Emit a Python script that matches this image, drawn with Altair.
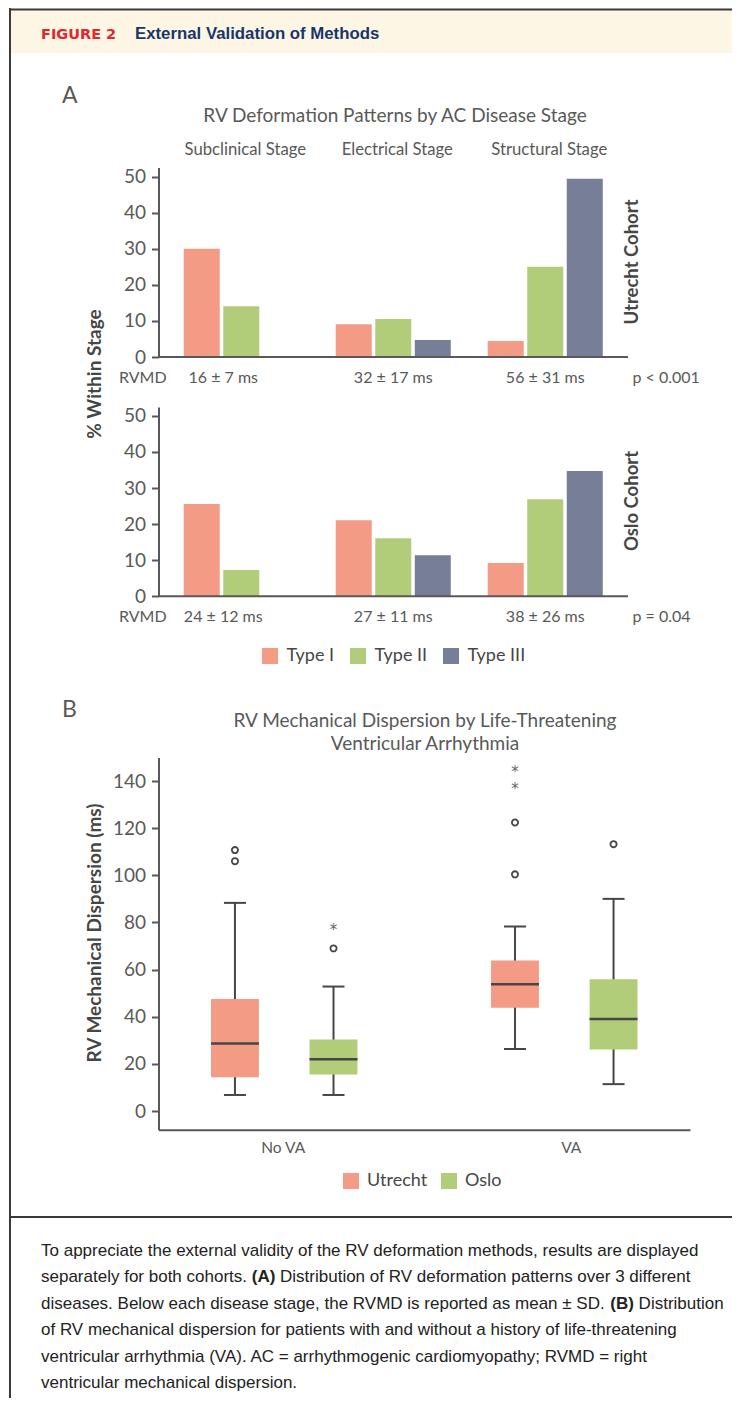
import altair as alt
import pandas as pd

# ---------------- values ----------------
STAGES = ["Subclinical Stage", "Electrical Stage", "Structural Stage"]
TYPES = ["Type I", "Type II", "Type III"]
UTRECHT_TYPE_I = [30.0, 9.1, 4.4]
UTRECHT_TYPE_II = [14.1, 10.5, 25.0]
UTRECHT_TYPE_III = [None, 4.7, 49.4]
OSLO_TYPE_I = [25.6, 21.1, 9.2]
OSLO_TYPE_II = [7.3, 16.1, 26.9]
OSLO_TYPE_III = [None, 11.4, 34.7]
UTRECHT_RVMD = ["16 ± 7 ms", "32 ± 17 ms", "56 ± 31 ms"]
OSLO_RVMD = ["24 ± 12 ms", "27 ± 11 ms", "38 ± 26 ms"]
UTRECHT_P = "p < 0.001"
OSLO_P = "p = 0.04"
PCT_TICKS = [0, 10, 20, 30, 40, 50]

VA_GROUPS = ["No VA", "VA"]
COHORTS = ["Utrecht", "Oslo"]
BOX_GROUP = ["No VA", "No VA", "VA", "VA"]
BOX_COHORT = ["Utrecht", "Oslo", "Utrecht", "Oslo"]
WHISKER_LOW = [6.8, 6.8, 26.3, 11.4]
Q1 = [14.3, 15.5, 43.8, 26.1]
MEDIAN = [28.6, 22.0, 53.8, 39.0]
Q3 = [47.5, 30.3, 63.9, 55.9]
WHISKER_HIGH = [88.3, 52.8, 78.3, 90.0]
OUTLIER_GROUP = ["No VA", "No VA", "No VA", "VA", "VA", "VA"]
OUTLIER_COHORT = ["Utrecht", "Utrecht", "Oslo", "Utrecht", "Utrecht", "Oslo"]
OUTLIER_VALUE = [110.7, 106.0, 69.0, 122.4, 100.4, 113.2]
EXTREME_GROUP = ["No VA", "VA", "VA"]
EXTREME_COHORT = ["Oslo", "Utrecht", "Utrecht"]
EXTREME_VALUE = [78.4, 145.1, 138.1]
MS_TICKS = [0, 20, 40, 60, 80, 100, 120, 140]

HEADER_LABEL = "FIGURE 2"
HEADER_TITLE = "External Validation of Methods"
TITLE_A = "RV Deformation Patterns by AC Disease Stage"
TITLE_B = ["RV Mechanical Dispersion by Life-Threatening", "Ventricular Arrhythmia"]
YTITLE_A = "% Within Stage"
YTITLE_B = "RV Mechanical Dispersion (ms)"
COHORT_LABELS = ["Utrecht Cohort", "Oslo Cohort"]
ROW_LABEL = "RVMD"
CAPTION = [
    [("To appreciate the external validity of the RV deformation methods, results are displayed", "normal")],
    [("separately for both cohorts.", "normal"), ("(A)", "bold"),
     ("Distribution of RV deformation patterns over 3 different", "normal")],
    [("diseases. Below each disease stage, the RVMD is reported as mean \u00b1 SD.", "normal"), ("(B)", "bold"),
     ("Distribution", "normal")],
    [("of RV mechanical dispersion for patients with and without a history of life-threatening", "normal")],
    [("ventricular arrhythmia (VA). AC = arrhythmogenic cardiomyopathy; RVMD = right", "normal")],
    [("ventricular mechanical dispersion.", "normal")],
]

# ---------------- layout / style ----------------
W, H = 724, 1390
LATO = "Lato"
SANS = "Liberation Sans"
GRAY = "#595959"
DARK = "#464646"
C_I, C_II, C_III = "#F49B85", "#B1CD7A", "#777E97"
CREAM = "#FEF6E4"
RED = "#E3262D"
NAVY = "#17366A"
FRAME = "#3a3a3a"
CAPTION_SIZE = 17.0

# Liberation Sans (Arial metrics) advance widths, used to chain caption segments
_ARIAL = {" ": 278, "(": 333, ")": 333, ",": 278, "-": 333, ".": 278, ";": 278, "=": 584,
          "\u00b1": 584, "A": 667, "B": 667, "C": 722, "D": 722, "M": 833, "R": 722, "S": 667,
          "T": 611, "V": 667, "a": 556, "b": 556, "c": 500, "d": 556, "e": 556, "f": 278,
          "g": 556, "h": 556, "i": 222, "j": 222, "k": 500, "l": 222, "m": 833, "n": 556,
          "o": 556, "p": 556, "q": 556, "r": 333, "s": 500, "t": 278, "u": 556, "v": 500,
          "w": 722, "x": 500, "y": 500, "z": 500}
_ARIAL_BOLD = {"(": 333, ")": 333, "A": 722, "B": 722, " ": 278}


def text_width(s, size, bold=False):
    tbl = _ARIAL_BOLD if bold else _ARIAL
    return sum(tbl.get(ch, 556) for ch in s) * size / 1000.0


def cx(v):
    return v - 8


def cy(v):
    return v - 8


ONE = alt.Data(values=[{"k": 0}])


def text_at(s, x, y, size, font=LATO, color=GRAY, align="left", baseline="alphabetic",
            weight="normal", angle=0):
    mk = dict(text=s, font=font, fontSize=size, color=color, align=align,
              baseline=baseline, fontWeight=weight)
    if angle:
        mk["angle"] = angle
    return alt.Chart(ONE).mark_text(**mk).encode(x=alt.value(cx(x)), y=alt.value(cy(y)))


def hline(x1, x2, y, color=FRAME, width=2):
    return alt.Chart(ONE).mark_rule(color=color, strokeWidth=width).encode(
        x=alt.value(cx(x1)), x2=alt.value(cx(x2)), y=alt.value(cy(y)))


def vline(x, y1, y2, color=FRAME, width=2):
    return alt.Chart(ONE).mark_rule(color=color, strokeWidth=width).encode(
        x=alt.value(cx(x)), y=alt.value(cy(y1)), y2=alt.value(cy(y2)))


# ---------------- panel A ----------------
A_LEFT, A_RIGHT = 158.5, 628
A_X_RANGE = [cx(A_LEFT), cx(A_RIGHT)]
PX_PER_PCT = 3.608


def pct_frame(t1, t2, t3):
    rows = []
    for i, st in enumerate(STAGES):
        for typ, vals in zip(TYPES, (t1, t2, t3)):
            if vals[i] is not None:
                rows.append({"stage": st, "type": typ, "pct": vals[i]})
    return pd.DataFrame(rows)


def stage_x():
    return alt.X("stage:N", sort=STAGES, title=None,
                 scale=alt.Scale(domain=STAGES, range=A_X_RANGE, paddingInner=0.243, paddingOuter=0.166),
                 axis=None)


def cohort_panel(t1, t2, t3, rvmd, zero_y, legend, with_headers):
    y_enc = alt.Y("pct:Q", title=None,
                  scale=alt.Scale(domain=[0, 52.5], range=[cy(zero_y), cy(zero_y - 52.5 * PX_PER_PCT)],
                                  nice=False, zero=True),
                  axis=alt.Axis(orient="left", offset=-cx(A_LEFT), values=PCT_TICKS, title=None))
    bars = alt.Chart(pct_frame(t1, t2, t3)).mark_bar().encode(
        x=stage_x(),
        xOffset=alt.XOffset("type:N", sort=TYPES,
                            scale=alt.Scale(domain=TYPES, paddingInner=0.089, paddingOuter=0)),
        y=y_enc,
        color=alt.Color("type:N", sort=TYPES,
                        scale=alt.Scale(domain=TYPES, range=[C_I, C_II, C_III]), legend=legend),
    )
    baseline = alt.Chart(ONE).mark_rule(color=GRAY, strokeWidth=2).encode(
        x=alt.value(cx(A_LEFT)), x2=alt.value(cx(A_RIGHT)), y=alt.value(cy(zero_y)))
    rv = pd.DataFrame({"stage": STAGES, "rvmd": rvmd})
    row_y = cy(zero_y + 25.5)
    first = alt.Chart(rv).transform_filter(alt.datum.stage == STAGES[0]).mark_text(
        font=LATO, fontSize=16, color=GRAY, baseline="alphabetic", dx=-18).encode(
        x=stage_x(), y=alt.value(row_y), text="rvmd:N")
    rest = alt.Chart(rv).transform_filter(alt.datum.stage != STAGES[0]).mark_text(
        font=LATO, fontSize=16, color=GRAY, baseline="alphabetic").encode(
        x=stage_x(), y=alt.value(row_y), text="rvmd:N")
    layers = [bars, baseline, first, rest]
    if with_headers:
        heads = alt.Chart(pd.DataFrame({"stage": STAGES})).mark_text(
            font=LATO, fontSize=16.7, color=GRAY, baseline="alphabetic", dx=4).encode(
            x=stage_x(), y=alt.value(cy(154.5)), text="stage:N")
        layers.append(heads)
    return alt.layer(*layers)


legend_a = alt.Legend(orient="none", legendX=cx(261), legendY=cy(647), direction="horizontal",
                      title=None, symbolType="square", symbolSize=256, symbolStrokeWidth=0,
                      symbolOpacity=1, labelFont=LATO, labelFontSize=18, labelColor=DARK,
                      labelOffset=7.5, columnPadding=14, padding=0)

utrecht = cohort_panel(UTRECHT_TYPE_I, UTRECHT_TYPE_II, UTRECHT_TYPE_III, UTRECHT_RVMD,
                       357, None, True)
oslo = cohort_panel(OSLO_TYPE_I, OSLO_TYPE_II, OSLO_TYPE_III, OSLO_RVMD, 596.3, legend_a, False)

# ---------------- panel B ----------------
B_X_RANGE = [cx(158.5), cx(690)]
PX_PER_MS = 2.357
B_ZERO = 1111
B_BOTTOM = B_ZERO + 8 * PX_PER_MS

b_xaxis = alt.Axis(orient="bottom", offset=cy(B_BOTTOM) - H, ticks=False, labels=False,
                   title=None, domain=True)


def b_x():
    return alt.X("group:N", sort=VA_GROUPS, title=None,
                 scale=alt.Scale(domain=VA_GROUPS, range=B_X_RANGE, paddingInner=0.477,
                                 paddingOuter=0.1875),
                 axis=b_xaxis)


def b_xoff():
    return alt.XOffset("cohort:N", sort=COHORTS,
                       scale=alt.Scale(domain=COHORTS, paddingInner=0.514, paddingOuter=0))


def b_y(field):
    return alt.Y(f"{field}:Q", title=None,
                 scale=alt.Scale(domain=[-8, 150], range=[cy(B_BOTTOM), cy(B_ZERO - 150 * PX_PER_MS)],
                                 nice=False, zero=False),
                 axis=alt.Axis(orient="left", offset=-cx(158.5), values=MS_TICKS, title=None))


box_df = pd.DataFrame({"group": BOX_GROUP, "cohort": BOX_COHORT, "lo": WHISKER_LOW, "q1": Q1,
                       "median": MEDIAN, "q3": Q3, "hi": WHISKER_HIGH})
out_df = pd.DataFrame({"group": OUTLIER_GROUP, "cohort": OUTLIER_COHORT, "value": OUTLIER_VALUE})
ext_df = pd.DataFrame({"group": EXTREME_GROUP, "cohort": EXTREME_COHORT, "value": EXTREME_VALUE})
grp_df = pd.DataFrame({"group": VA_GROUPS})

legend_b = alt.Legend(orient="none", legendX=cx(342), legendY=cy(1172), direction="horizontal",
                      title=None, symbolType="square", symbolSize=256, symbolStrokeWidth=0,
                      symbolOpacity=1, labelFont=LATO, labelFontSize=18, labelColor=DARK,
                      labelOffset=7, columnPadding=12, padding=0)

whisker = alt.Chart(box_df).mark_rule(color=DARK, strokeWidth=2).encode(
    x=b_x(), xOffset=b_xoff(), y=b_y("lo"), y2="hi:Q")
boxes = alt.Chart(box_df).mark_bar().encode(
    x=b_x(), xOffset=b_xoff(), y=b_y("q1"), y2="q3:Q",
    color=alt.Color("cohort:N", sort=COHORTS, scale=alt.Scale(domain=COHORTS, range=[C_I, C_II]),
                    legend=legend_b))
medians = alt.Chart(box_df).mark_tick(color=DARK, thickness=2.5, size=48, orient="horizontal",
                                      opacity=1).encode(x=b_x(), xOffset=b_xoff(), y=b_y("median"))
caps_lo = alt.Chart(box_df).mark_tick(color=DARK, thickness=2, size=22, orient="horizontal",
                                      opacity=1).encode(x=b_x(), xOffset=b_xoff(), y=b_y("lo"))
caps_hi = alt.Chart(box_df).mark_tick(color=DARK, thickness=2, size=22, orient="horizontal",
                                      opacity=1).encode(x=b_x(), xOffset=b_xoff(), y=b_y("hi"))
outliers = alt.Chart(out_df).mark_point(shape="circle", filled=False, size=38, strokeWidth=1.8,
                                        color=DARK, opacity=1).encode(
    x=b_x(), xOffset=b_xoff(), y=b_y("value"))
extremes = alt.Chart(ext_df).mark_text(text="*", font="DejaVu Sans", fontSize=15, color="#666666",
                                       baseline="alphabetic", dy=8.5).encode(
    x=b_x(), xOffset=b_xoff(), y=b_y("value"))
lbl_no = alt.Chart(grp_df).transform_filter(alt.datum.group == VA_GROUPS[0]).mark_text(
    font=LATO, fontSize=15.5, color=GRAY, baseline="alphabetic", dx=-1).encode(
    x=b_x(), y=alt.value(cy(1153)), text="group:N")
lbl_va = alt.Chart(grp_df).transform_filter(alt.datum.group == VA_GROUPS[1]).mark_text(
    font=LATO, fontSize=15.5, color=GRAY, baseline="alphabetic", dx=7).encode(
    x=b_x(), y=alt.value(cy(1153)), text="group:N")
panel_b = alt.layer(whisker, boxes, medians, caps_lo, caps_hi, outliers, extremes, lbl_no, lbl_va)

# ---------------- decorations & text ----------------
deco = [
    alt.Chart(ONE).mark_rect(color=CREAM).encode(
        x=alt.value(cx(11)), x2=alt.value(cx(740)), y=alt.value(cy(10)), y2=alt.value(cy(53))),
    hline(10, 740, 9.5),
    vline(10, 8, 1400),
    hline(10, 740, 1217),
    text_at(HEADER_LABEL, 41, 38.5, 14.5, font="DejaVu Sans", color=RED, weight="bold"),
    text_at(HEADER_TITLE, 135, 39, 16.8, font=SANS, color=NAVY, weight="bold"),
    text_at("A", 62, 103, 23),
    text_at(TITLE_A, 395, 122, 19, align="center"),
    text_at(YTITLE_A, 95, 374, 19, color=DARK, weight="bold", align="center", baseline="middle", angle=270),
    text_at(COHORT_LABELS[0], 632, 262, 18.5, color=DARK, weight="bold", align="center", baseline="middle", angle=270),
    text_at(COHORT_LABELS[1], 632, 501, 18.5, color=DARK, weight="bold", align="center", baseline="middle", angle=270),
    text_at(ROW_LABEL, 119, 382.5, 16),
    text_at(ROW_LABEL, 119, 622, 16),
    text_at(UTRECHT_P, 632.5, 382.5, 16),
    text_at(OSLO_P, 632.5, 622, 16),
    text_at("B", 62, 717, 23),
    text_at(TITLE_B[0], 425, 727, 19, align="center"),
    text_at(TITLE_B[1], 425, 750, 19, align="center"),
    text_at(YTITLE_B, 95, 933, 19, color=DARK, weight="bold", align="center", baseline="middle", angle=270),
]

caption_layers = []
for i, segs in enumerate(CAPTION):
    y = 1256 + 26.4 * i
    x = 41.0
    for s, wt in segs:
        caption_layers.append(text_at(s, x, y, CAPTION_SIZE, font=SANS, color="#222222", weight=wt))
        x += text_width(s, CAPTION_SIZE, wt == "bold") + text_width(" ", CAPTION_SIZE)

chart = alt.layer(*deco, utrecht, oslo, panel_b, *caption_layers).resolve_scale(
    x="independent", y="independent", color="independent", xOffset="independent"
).properties(
    width=W, height=H, autosize=alt.AutoSizeParams(type="none"), padding=0
).configure_view(stroke=None).configure_axis(
    domainColor=GRAY, domainWidth=2, tickColor=GRAY, tickWidth=2, tickSize=7,
    labelFont=LATO, labelFontSize=19, labelColor=GRAY, labelPadding=6, grid=False
)

chart.save("out.html", embed_options={"renderer": "svg", "actions": False})
